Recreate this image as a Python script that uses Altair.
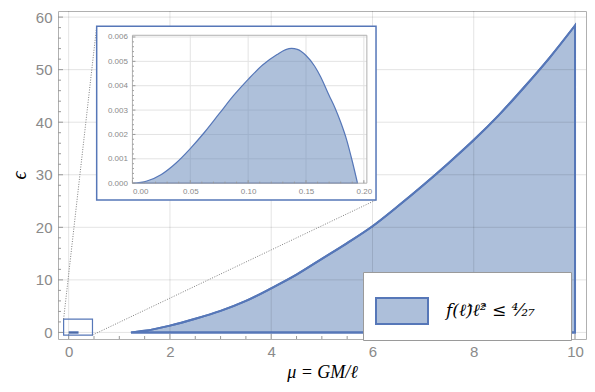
import altair as alt
import pandas as pd

# ---------------- data ----------------
main_mu = [1.23, 1.5, 2.0, 2.5, 3.0, 3.5, 4.0, 4.5, 5.0, 5.5, 6.0, 6.5, 7.0, 7.5, 8.0, 8.5, 9.0, 9.5, 10.0]
main_eps = [0, 0.3, 1.3, 2.6, 4.1, 6.0, 8.4, 11.0, 14.0, 17.0, 20.2, 24.0, 28.0, 32.2, 36.6, 41.4, 46.7, 52.3, 58.4]

inset_mu = [0, 0.0125, 0.025, 0.0375, 0.05, 0.0625, 0.075, 0.0875, 0.1, 0.1125, 0.125, 0.1325,
            0.1375, 0.1425, 0.15, 0.1575, 0.1625, 0.17, 0.175, 0.18, 0.185, 0.19, 0.1945]
inset_eps = [0, 0.00009, 0.00036, 0.00082, 0.00142, 0.0021, 0.00285, 0.0036, 0.00426, 0.00485, 0.00528, 0.00548,
             0.00553, 0.00549, 0.00524, 0.0048, 0.00438, 0.0036, 0.0031, 0.0025, 0.0018, 0.0009, 0]

legend_label = "f(ℓ̂)ℓ̂²  ≤  ⁴⁄₂₇\u2800"

x_major = [0, 2, 4, 6, 8, 10]
x_minor = [0.5 * i for i in range(0, 21) if (0.5 * i) % 2 != 0]
y_major = [0, 10, 20, 30, 40, 50, 60]
y_minor = [v for v in range(0, 61, 2) if v % 10 != 0]

ix_major = [0.0, 0.05, 0.10, 0.15, 0.20]
ix_minor = [round(0.01 * i, 3) for i in range(0, 21) if i % 5 != 0]
iy_major = [0.0, 0.001, 0.002, 0.003, 0.004, 0.005, 0.006]
iy_minor = [round(0.0002 * i, 5) for i in range(0, 31) if i % 5 != 0]

zoom_box = [-0.1, 0.47, -0.5, 2.55]          # x0, x1, y0, y1 (main coords)
inset_box = [0.553, 6.07, 25.2, 58.25]       # outer blue frame (main coords)
inset_plot = [1.259, 5.889, 28.4, 56.54]     # inner inset plot area (main coords)
inset_dom_x = [0, 0.2026]
inset_dom_y = [0, 0.00607]

# ---------------- layout / style ----------------
W, H = 528, 328
X_DOM = [-0.211, 10.217]
Y_DOM = [-1.25, 61.16]
BLUE = '#5677b8'
FILL = '#adbfda'
LABEL_GRAY = '#8a8a8a'


def px(v):
    return (v - X_DOM[0]) / (X_DOM[1] - X_DOM[0]) * W


def py(v):
    return H - (v - Y_DOM[0]) / (Y_DOM[1] - Y_DOM[0]) * H


ix0, ix1 = px(inset_plot[0]), px(inset_plot[1])
iy0, iy1 = py(inset_plot[2]), py(inset_plot[3])

xs = alt.Scale(domain=X_DOM, nice=False, zero=False)
ys = alt.Scale(domain=Y_DOM, nice=False, zero=False)

xaxis = alt.Axis(values=x_major, format='d', labelFont='Liberation Sans', labelFontSize=15,
                 labelColor=LABEL_GRAY, ticks=False, domain=False, grid=False, labelPadding=5,
                 title='μ = GM/ℓ', titleFont='Liberation Serif', titleFontStyle='italic',
                 titleFontWeight='normal', titleFontSize=18, titleColor='black', titlePadding=4)
yaxis = alt.Axis(values=y_major, format='d', labelFont='Liberation Sans', labelFontSize=15,
                 labelColor=LABEL_GRAY, ticks=False, domain=False, grid=False, labelPadding=6,
                 title='ϵ', titleFont='Liberation Serif', titleFontStyle='italic',
                 titleFontWeight='normal', titleFontSize=20, titleColor='black', titlePadding=6)

X = alt.X('x:Q', scale=xs, axis=xaxis)
Y = alt.Y('y:Q', scale=ys, axis=yaxis)

legend = alt.Legend(orient='none', legendX=305, legendY=261, title=None, fillColor='white',
                    strokeColor='#9a9a9a', padding=12, symbolType='M-1,-0.5H1V0.5H-1Z',
                    symbolSize=2704, symbolStrokeColor=BLUE, symbolStrokeWidth=2,
                    symbolFillColor=FILL, symbolOpacity=1,
                    labelFont='DejaVu Serif', labelFontStyle='italic', labelFontWeight='normal',
                    labelFontSize=17, labelColor='black', labelOffset=17, labelLimit=300)

main_df = pd.DataFrame({'x': main_mu, 'y': main_eps, 'label': [legend_label] * len(main_mu)})
inset_df = pd.DataFrame({'x': inset_mu, 'y': inset_eps})

fill_layer = alt.Chart(main_df).mark_area(interpolate='monotone', stroke=BLUE, strokeWidth=2, opacity=1).encode(
    x=X, y=Y, y2=alt.datum(0),
    color=alt.Color('label:N', scale=alt.Scale(range=[FILL]), legend=legend))

tiny_layer = alt.Chart(inset_df).mark_area(interpolate='monotone', fill=FILL, stroke=BLUE, strokeWidth=2.5).encode(
    x=X, y=Y, y2=alt.datum(0))

gx = alt.Chart(pd.DataFrame({'x': x_major})).mark_rule(color='black', opacity=0.11, strokeWidth=1).encode(
    x=X, y=alt.value(0), y2=alt.value(H))
gy = alt.Chart(pd.DataFrame({'y': y_major})).mark_rule(color='black', opacity=0.11, strokeWidth=1).encode(
    y=Y, x=alt.value(0), x2=alt.value(W))

stroke_layer = alt.Chart(main_df).mark_area(interpolate='monotone', fillOpacity=0, stroke=BLUE, strokeWidth=2).encode(
    x=X, y=Y, y2=alt.datum(0))

tick_col = '#999999'
tx_major = alt.Chart(pd.DataFrame({'x': x_major})).mark_rule(color=tick_col).encode(
    x=X, y=alt.value(H), y2=alt.value(H - 5))
tx_minor = alt.Chart(pd.DataFrame({'x': x_minor})).mark_rule(color=tick_col).encode(
    x=X, y=alt.value(H), y2=alt.value(H - 3))
ty_major = alt.Chart(pd.DataFrame({'y': y_major})).mark_rule(color=tick_col).encode(
    y=Y, x=alt.value(0), x2=alt.value(5))
ty_minor = alt.Chart(pd.DataFrame({'y': y_minor})).mark_rule(color=tick_col).encode(
    y=Y, x=alt.value(0), x2=alt.value(3))

zoom_df = pd.DataFrame({'x': [zoom_box[0]], 'x2': [zoom_box[1]], 'y': [zoom_box[2]], 'y2': [zoom_box[3]]})
zoom_rect = alt.Chart(zoom_df).mark_rect(filled=False, stroke=BLUE, strokeWidth=1.2).encode(
    x=X, x2='x2:Q', y=Y, y2='y2:Q')

conn_df = pd.DataFrame({'x': [zoom_box[0], zoom_box[1]], 'y': [zoom_box[3], zoom_box[2]],
                        'x2': [inset_box[0], inset_box[1]], 'y2': [inset_box[3], inset_box[2]]})
connectors = alt.Chart(conn_df).mark_rule(color='#808080', strokeDash=[1, 1.5], strokeWidth=1).encode(
    x=X, y=Y, x2='x2:Q', y2='y2:Q')

ibox_df = pd.DataFrame({'x': [inset_box[0]], 'x2': [inset_box[1]], 'y': [inset_box[2]], 'y2': [inset_box[3]]})
inset_bg = alt.Chart(ibox_df).mark_rect(fill='white', stroke=BLUE, strokeWidth=1.5).encode(
    x=X, x2='x2:Q', y=Y, y2='y2:Q')

main = alt.layer(fill_layer, tiny_layer, gx, gy, stroke_layer, tx_major, tx_minor, ty_major, ty_minor,
                 zoom_rect, connectors, inset_bg)

# ---------------- inset ----------------
ixs = alt.Scale(domain=inset_dom_x, range=[ix0, ix1], nice=False, zero=False)
iys = alt.Scale(domain=inset_dom_y, range=[iy0, iy1], nice=False, zero=False)
ixaxis = alt.Axis(orient='bottom', offset=iy0 - H, values=ix_major, format='.2f', labelFont='Liberation Sans',
                  labelFontSize=8, labelColor=LABEL_GRAY, ticks=False, domain=False, grid=False,
                  labelPadding=4, title=None, zindex=2)
iyaxis = alt.Axis(orient='left', offset=-ix0, values=iy_major, format='.3f', labelFont='Liberation Sans',
                  labelFontSize=8, labelColor=LABEL_GRAY, ticks=False, domain=False, grid=False,
                  labelPadding=5, title=None, zindex=2)
IX = alt.X('x:Q', scale=ixs, axis=ixaxis)
IY = alt.Y('y:Q', scale=iys, axis=iyaxis)

igx = alt.Chart(pd.DataFrame({'x': ix_major[1:], 'y': [inset_dom_y[0]] * 4, 'y2': [inset_dom_y[1]] * 4})).mark_rule(
    color='#e3e3e3').encode(x=IX, y=IY, y2='y2:Q')
igy = alt.Chart(pd.DataFrame({'y': iy_major[1:], 'x': [inset_dom_x[0]] * 6, 'x2': [inset_dom_x[1]] * 6})).mark_rule(
    color='#e3e3e3').encode(y=IY, x=IX, x2='x2:Q')
iarea = alt.Chart(inset_df).mark_area(interpolate='monotone', fill='#5e81b5', fillOpacity=0.5,
                                     stroke=BLUE, strokeWidth=1.2).encode(x=IX, y=IY, y2=alt.datum(0))
iframe = alt.Chart(pd.DataFrame({'x': [inset_dom_x[0]], 'x2': [inset_dom_x[1]], 'y': [inset_dom_y[0]],
                                 'y2': [inset_dom_y[1]]})).mark_rect(filled=False, stroke='#b0b0b0',
                                                                     strokeWidth=1).encode(
    x=IX, x2='x2:Q', y=IY, y2='y2:Q')
itx = alt.Chart(pd.DataFrame({'x': ix_major})).mark_rule(color=tick_col).encode(
    x=IX, y=alt.value(iy0), y2=alt.value(iy0 - 3))
itxm = alt.Chart(pd.DataFrame({'x': ix_minor})).mark_rule(color=tick_col).encode(
    x=IX, y=alt.value(iy0), y2=alt.value(iy0 - 1.5))
ity = alt.Chart(pd.DataFrame({'y': iy_major})).mark_rule(color=tick_col).encode(
    y=IY, x=alt.value(ix0), x2=alt.value(ix0 + 3))
itym = alt.Chart(pd.DataFrame({'y': iy_minor})).mark_rule(color=tick_col).encode(
    y=IY, x=alt.value(ix0), x2=alt.value(ix0 + 1.5))

inset = alt.layer(igx, igy, iarea, iframe, itx, itxm, ity, itym)

chart = alt.layer(main, inset).resolve_scale(x='independent', y='independent').properties(
    width=W, height=H,
    autosize=alt.AutoSizeParams(type='none'),
    padding={'left': 50, 'top': 3, 'right': 1, 'bottom': 43},
).configure_view(stroke='#b0b0b0', strokeWidth=1)

chart.save("out.html", embed_options={"renderer": "svg", "actions": False})
